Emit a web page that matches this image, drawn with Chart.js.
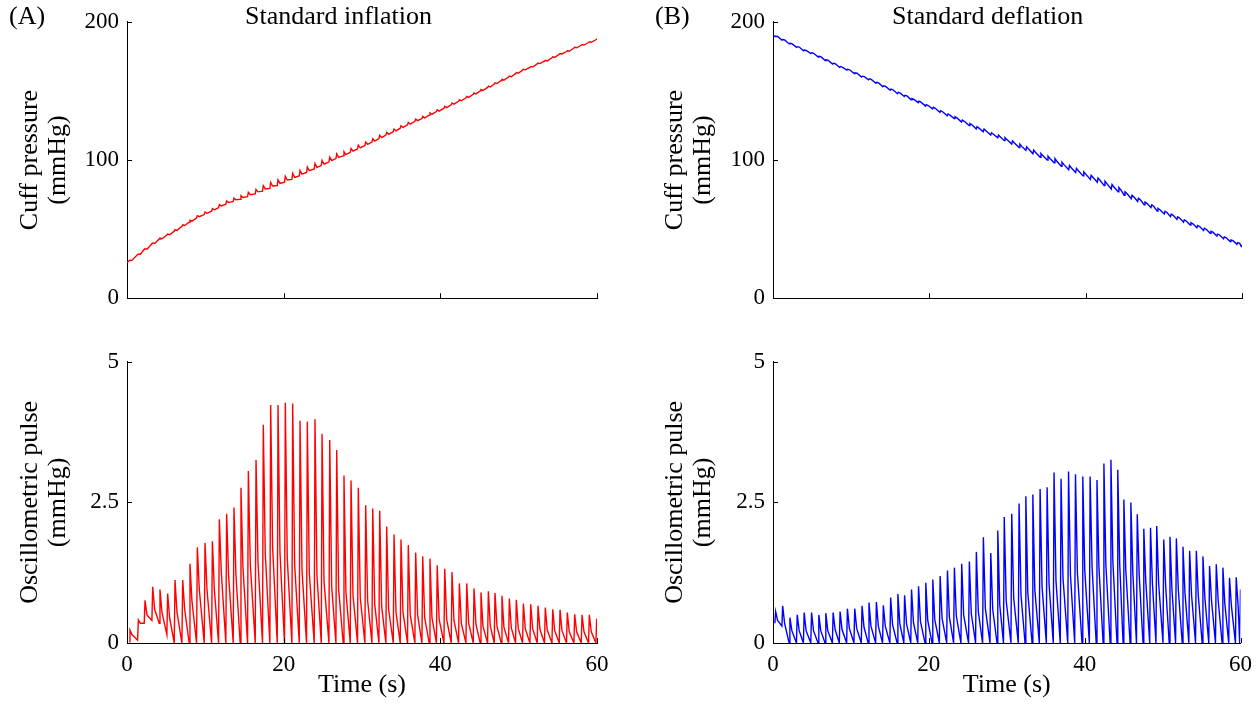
<!DOCTYPE html>
<html>
<head>
<meta charset="utf-8">
<script src="https://cdn.jsdelivr.net/npm/chart.js@4.4.1/dist/chart.umd.min.js"></script>
<style>
  body { margin: 0; background: #fff; width: 1260px; height: 708px; overflow: hidden; position: relative;
         font-family: "Liberation Serif", "Times New Roman", serif; }
  .panel { position: absolute; }
  .lbl { position: absolute; font-size: 26px; line-height: 1; color: #000; white-space: nowrap; }
</style>
</head>
<body>
<div class="panel" style="left:0;top:0;width:620px;height:320px"><canvas id="cuffA"></canvas></div>
<div class="panel" style="left:0;top:340px;width:620px;height:368px"><canvas id="pulseA"></canvas></div>
<div class="panel" style="left:645px;top:0;width:615px;height:320px"><canvas id="cuffB"></canvas></div>
<div class="panel" style="left:645px;top:340px;width:615px;height:368px"><canvas id="pulseB"></canvas></div>

<div class="lbl" style="left:9px;top:3px">(A)</div>
<div class="lbl" style="left:245px;top:3px">Standard inflation</div>
<div class="lbl" style="left:655px;top:3px">(B)</div>
<div class="lbl" style="left:892px;top:3px">Standard deflation</div>

<script>
// ---- (A) standard inflation: one entry per heart beat ----
const beatTimesA = [0.38, 1.45, 2.30, 3.28, 4.21, 5.19, 6.13, 7.11, 8.04, 8.98,
  9.96, 10.90, 11.79, 12.72, 13.66, 14.55, 15.49, 16.47, 17.40, 18.34,
  19.28, 20.21, 21.15, 22.09, 23.02, 24.00, 24.90, 25.88, 26.77, 27.70,
  28.60, 29.53, 30.47, 31.37, 32.26, 33.15, 34.09, 34.98, 35.91, 36.85,
  37.75, 38.68, 39.60, 40.56, 41.49, 42.43, 43.37, 44.30, 45.19, 46.13,
  46.98, 47.87, 48.81, 49.70, 50.60, 51.54, 52.47, 53.40, 54.35, 55.28,
  56.21, 57.15, 58.09, 59.02, 59.96];
const peaksA = [0.23, 0.41, 0.76, 1.00, 0.95, 0.88, 1.12, 1.12, 1.41, 1.70,
  1.78, 1.81, 2.20, 2.30, 2.41, 2.76, 3.06, 3.26, 3.88, 4.23,
  4.23, 4.27, 4.26, 3.95, 3.94, 3.98, 3.72, 3.61, 3.43, 2.98,
  2.89, 2.76, 2.45, 2.39, 2.35, 2.07, 1.93, 1.84, 1.74, 1.61,
  1.54, 1.50, 1.38, 1.32, 1.26, 1.06, 1.06, 0.97, 0.90, 0.92,
  0.89, 0.84, 0.79, 0.77, 0.70, 0.69, 0.66, 0.63, 0.60, 0.59,
  0.54, 0.51, 0.50, 0.50, 0.43];
const notchA = [0.15, 0.35, 0.50, 0.60, 0.55, 0.45, 0.55, 0.60, 0.75, 0.95,
  0.95, 0.95, 1.25, 1.20, 1.20, 1.35, 1.40, 1.45, 1.60, 1.70,
  1.60, 1.50, 1.40, 1.30, 1.25, 1.20, 1.10, 1.00, 0.95, 0.90,
  0.85, 0.80, 0.75, 0.70, 0.65, 0.60, 0.55, 0.55, 0.50, 0.50,
  0.45, 0.45, 0.42, 0.42, 0.40, 0.35, 0.35, 0.33, 0.30, 0.30,
  0.30, 0.28, 0.27, 0.26, 0.25, 0.25, 0.24, 0.23, 0.22, 0.22,
  0.20, 0.20, 0.20, 0.20, 0.18];
const troughA = [0.02, 0.05, 0.35, 0.40, 0.35, 0.15, 0, 0, 0, 0,
  0, 0, 0, 0, 0, 0, 0, 0, 0, 0, 0, 0, 0, 0, 0, 0, 0, 0, 0, 0,
  0, 0, 0, 0, 0, 0, 0, 0, 0, 0, 0, 0, 0, 0, 0, 0, 0, 0, 0, 0,
  0, 0, 0, 0, 0, 0, 0, 0, 0, 0, 0, 0, 0, 0, 0];
// cuff pressure (mmHg) at the start of each beat
const cuffBaseA = [27.2, 31.5, 35.0, 39.0, 42.5, 45.5, 48.5, 52.0, 55.0, 58.0,
  60.5, 63.0, 65.5, 68.0, 70.0, 71.5, 73.5, 75.5, 77.5, 79.5,
  81.5, 84.0, 86.0, 88.5, 91.0, 93.5, 96.0, 98.5, 101.0, 103.0,
  105.5, 108.0, 110.5, 113.0, 115.5, 118.0, 120.5, 123.0, 125.5, 128.0,
  130.0, 132.5, 135.0, 137.5, 140.0, 142.5, 145.0, 147.5, 150.0, 152.5,
  155.0, 157.5, 160.0, 162.5, 165.0, 167.0, 169.5, 171.5, 174.0, 176.5,
  178.5, 181.0, 183.0, 185.0, 187.0];
const cuffStartA = 25.7;

// ---- (B) standard deflation ----
const beatTimesB = [0.34, 1.24, 2.17, 3.11, 4.00, 4.95, 5.88, 6.78, 7.72, 8.61,
  9.55, 10.49, 11.43, 12.32, 13.27, 14.16, 15.10, 16.03, 16.89, 17.78,
  18.68, 19.61, 20.51, 21.45, 22.39, 23.28, 24.22, 25.20, 26.10, 27.00,
  27.95, 28.85, 29.68, 30.64, 31.58, 32.45, 33.35, 34.28, 35.18, 36.07,
  36.97, 37.93, 38.82, 39.76, 40.70, 41.58, 42.47, 43.37, 44.25, 45.03,
  45.93, 46.75, 47.59, 48.45, 49.25, 50.15, 50.95, 51.77, 52.62, 53.47,
  54.33, 55.18, 56.03, 56.89, 57.74, 58.59, 59.45, 60.00];
const peaksB = [0.56, 0.66, 0.45, 0.50, 0.54, 0.54, 0.50, 0.53, 0.54, 0.56,
  0.61, 0.61, 0.66, 0.72, 0.73, 0.67, 0.81, 0.87, 0.85, 0.95,
  1.01, 1.07, 1.13, 1.19, 1.29, 1.34, 1.41, 1.45, 1.62, 1.88,
  1.60, 2.00, 2.24, 2.30, 2.48, 2.61, 2.64, 2.74, 2.77, 3.03,
  2.92, 3.05, 3.00, 2.96, 2.96, 2.90, 3.19, 3.26, 3.08, 2.55,
  2.50, 2.29, 2.03, 2.05, 2.08, 1.84, 1.89, 1.86, 1.71, 1.64,
  1.64, 1.54, 1.37, 1.40, 1.34, 1.16, 1.17, 0.95];
const notchB = [0.40, 0.35, 0.22, 0.22, 0.22, 0.22, 0.22, 0.22, 0.24, 0.24,
  0.26, 0.26, 0.28, 0.30, 0.30, 0.30, 0.32, 0.34, 0.34, 0.36,
  0.38, 0.40, 0.42, 0.44, 0.46, 0.48, 0.50, 0.52, 0.56, 0.62,
  0.60, 0.68, 0.75, 0.80, 0.85, 0.90, 0.95, 1.00, 1.05, 1.10,
  1.15, 1.20, 1.25, 1.30, 1.35, 1.35, 1.40, 1.45, 1.40, 1.30,
  1.25, 1.20, 1.10, 1.05, 1.05, 1.00, 0.95, 0.95, 0.90, 0.85,
  0.85, 0.80, 0.75, 0.75, 0.70, 0.65, 0.65, 0.50];
const troughB = [0.35, 0.30, 0, 0, 0, 0, 0, 0, 0, 0,
  0, 0, 0, 0, 0, 0, 0, 0, 0, 0, 0, 0, 0, 0, 0, 0, 0, 0, 0, 0,
  0, 0, 0, 0, 0, 0, 0, 0, 0, 0, 0, 0, 0, 0, 0, 0, 0, 0, 0, 0,
  0, 0, 0, 0, 0, 0, 0, 0, 0, 0, 0, 0, 0, 0, 0, 0, 0, 0];
const cuffBaseB = [189.0, 186.5, 184.0, 181.5, 179.0, 177.0, 174.5, 172.0, 169.5, 167.0,
  165.0, 162.5, 160.0, 158.0, 155.5, 153.0, 150.5, 148.0, 146.0, 143.5,
  141.5, 139.0, 137.0, 134.5, 132.0, 130.0, 127.5, 125.0, 122.5, 120.5,
  118.0, 116.0, 114.0, 111.5, 109.0, 107.0, 104.5, 102.0, 100.0, 98.0,
  95.5, 93.0, 91.0, 88.5, 86.0, 84.0, 81.5, 79.0, 77.0, 74.5,
  72.0, 70.0, 67.5, 65.5, 63.0, 61.0, 59.0, 57.0, 55.0, 53.0,
  51.0, 49.0, 47.0, 45.0, 43.0, 41.0, 39.0, 37.5];
const cuffStartB = 190.5;

// axis ticks
const timeTicks = [0, 20, 40, 60];
const cuffTicks = [0, 100, 200];
const pulseTicks = [0, 2.5, 5];

// beat shape: onset shortly before the peak, notch after it
const RISE = 0.1;
const NOTCH = 0.25;

function pulseWave(times, peaks, notch, trough, base, start) {
  const pts = [];
  if (start !== undefined) pts.push({ x: 0, y: start });
  for (let i = 0; i < times.length; i++) {
    const b = base ? base[i] : 0;
    pts.push({ x: times[i] - RISE, y: b + trough[i] });
    pts.push({ x: times[i], y: b + peaks[i] });
    pts.push({ x: times[i] + NOTCH, y: b + notch[i] });
  }
  return pts;
}

Chart.defaults.font.family = '"Liberation Serif", "Times New Roman", serif';
Chart.defaults.font.size = 23;
Chart.defaults.color = '#000';

// small tick marks drawn inward, MATLAB style
const innerTicks = {
  id: 'innerTicks',
  afterDraw(chart) {
    const { ctx, chartArea, scales } = chart;
    ctx.save();
    ctx.strokeStyle = '#000';
    ctx.lineWidth = 1;
    ctx.beginPath();
    scales.x.ticks.forEach(tk => {
      const px = Math.round(scales.x.getPixelForValue(tk.value)) + 0.5;
      ctx.moveTo(px, chartArea.bottom);
      ctx.lineTo(px, chartArea.bottom - 5);
    });
    scales.y.ticks.forEach(tk => {
      const py = Math.round(scales.y.getPixelForValue(tk.value)) + 0.5;
      ctx.moveTo(chartArea.left, py);
      ctx.lineTo(chartArea.left + 5, py);
    });
    ctx.stroke();
    ctx.restore();
  }
};

function makeChart(id, points, color, yTicks, yTitle, bottom, yAxisW, padRight) {
  const topPad = bottom ? 21 : 16;
  const xAxisH = bottom ? 65 : 19;
  return new Chart(document.getElementById(id), {
    type: 'line',
    data: {
      datasets: [{
        data: points,
        borderColor: color,
        borderWidth: 1.4,
        pointRadius: 0,
        tension: 0,
        fill: false
      }]
    },
    options: {
      responsive: true,
      maintainAspectRatio: false,
      animation: false,
      events: [],
      layout: { padding: { top: topPad, right: padRight, left: 0, bottom: 0 } },
      plugins: { legend: { display: false }, tooltip: { enabled: false } },
      scales: {
        x: {
          type: 'linear',
          min: timeTicks[0],
          max: timeTicks[timeTicks.length - 1],
          afterBuildTicks: s => { s.ticks = timeTicks.map(v => ({ value: v })); },
          grid: { display: false, drawTicks: false },
          border: { display: true, color: '#000', width: 1 },
          ticks: { display: bottom, padding: 8, maxRotation: 0 },
          title: { display: bottom, text: 'Time (s)', font: { size: 26, lineHeight: 1 }, padding: { top: 0, bottom: 10 } },
          afterFit: s => { s.height = xAxisH; }
        },
        y: {
          min: yTicks[0],
          max: yTicks[yTicks.length - 1],
          afterBuildTicks: s => { s.ticks = yTicks.map(v => ({ value: v })); },
          grid: { display: false, drawTicks: false },
          border: { display: true, color: '#000', width: 1 },
          ticks: { padding: 8 },
          title: { display: true, text: yTitle, font: { size: 26, lineHeight: 1.05 }, padding: { top: 17, bottom: 0 } },
          afterFit: s => { s.width = yAxisW; }
        }
      }
    },
    plugins: [innerTicks]
  });
}

makeChart('cuffA', pulseWave(beatTimesA, peaksA, notchA, troughA, cuffBaseA, cuffStartA),
  '#ff0000', cuffTicks, ['Cuff pressure', '(mmHg)'], false, 127, 23);
makeChart('pulseA', pulseWave(beatTimesA, peaksA, notchA, troughA),
  '#ff0000', pulseTicks, ['Oscillometric pulse', '(mmHg)'], true, 127, 23);
makeChart('cuffB', pulseWave(beatTimesB, peaksB, notchB, troughB, cuffBaseB, cuffStartB),
  '#0000ff', cuffTicks, ['Cuff pressure', '(mmHg)'], false, 128, 18);
makeChart('pulseB', pulseWave(beatTimesB, peaksB, notchB, troughB),
  '#0000ff', pulseTicks, ['Oscillometric pulse', '(mmHg)'], true, 128, 18);
</script>
</body>
</html>
